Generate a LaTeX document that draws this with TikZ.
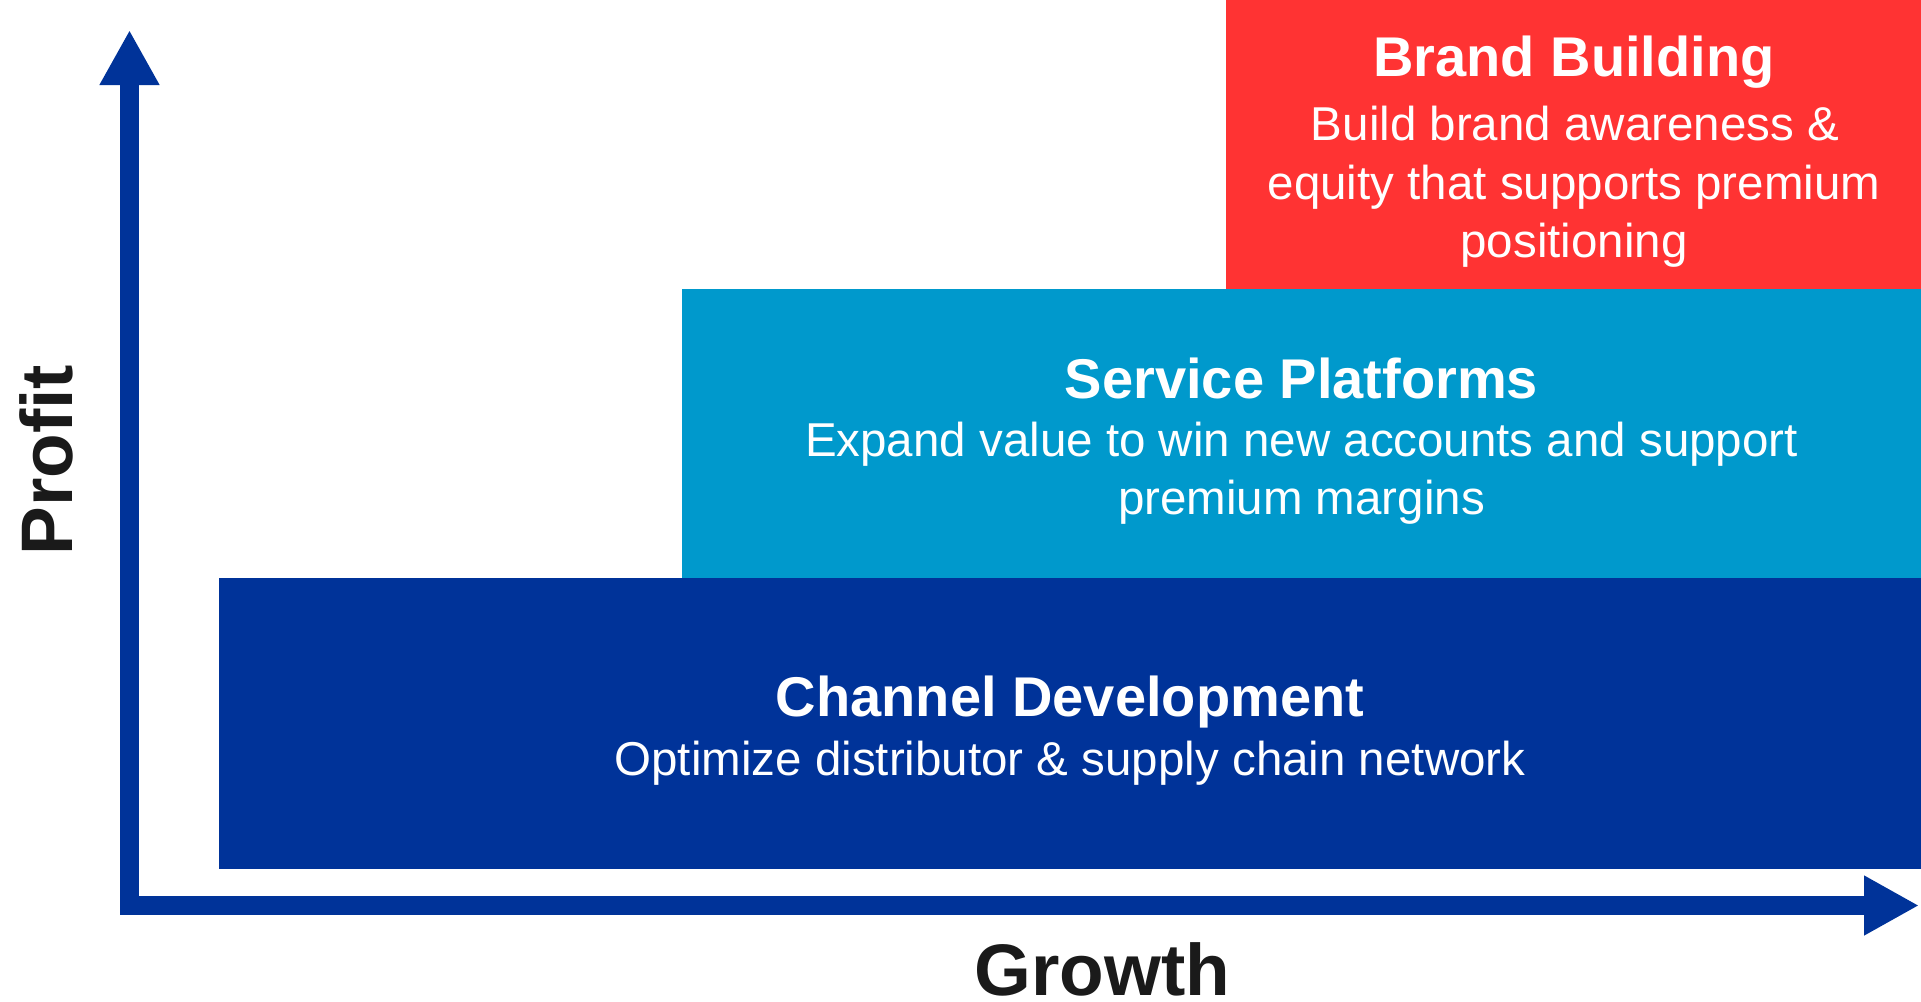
\documentclass[tikz,border=0pt]{standalone}
\usepackage{fontspec}
\setmainfont{Liberation Sans}
\usetikzlibrary{arrows.meta}

\definecolor{brandred}{RGB}{255,51,51}
\definecolor{servicecyan}{RGB}{0,153,204}
\definecolor{channelblue}{RGB}{0,51,153}
\definecolor{axisblue}{RGB}{0,51,153}
\definecolor{labelink}{RGB}{26,26,26}

\begin{document}
\begin{tikzpicture}[x=1pt,y=-1pt,
  tier/.style={rectangle, anchor=north west, inner sep=0pt, outer sep=0pt, draw=none},
  tiertitle/.style={anchor=base, inner sep=0pt, text=white,
    font=\fontsize{56}{67}\selectfont\bfseries},
  tierbody/.style={anchor=base, inner sep=0pt, text=white,
    font=\fontsize{47.5}{58}\selectfont},
  axislabel/.style={anchor=base, inner sep=0pt, text=labelink,
    font=\fontsize{73}{88}\selectfont\bfseries},
  axisline/.style={draw=axisblue, line width=19pt, line join=miter,
    {Triangle[length=55pt,width=56pt]}-{Triangle[length=55pt,width=56pt]}}
]
\useasboundingbox (0,0) rectangle (1921,1001);

% tiers
\node[tier, fill=channelblue, minimum width=1702pt, minimum height=291pt] (channel) at (219,578) {};
\node[tier, fill=servicecyan, minimum width=1239pt, minimum height=289pt] (service) at (682,289) {};
\node[tier, fill=brandred, minimum width=695pt, minimum height=289pt] (brand) at (1226,0) {};

% axes
\coordinate (ytip) at (129.5,30);
\coordinate (origin) at (129.5,905.5);
\coordinate (xtip) at (1919,905.5);
\draw[axisline] (ytip) -- (origin) -- (xtip);

% tier texts
\node[tiertitle] (brandT) at (1574,76) {Brand Building};
\node[tierbody] (brandA) at (1575,140) {Build brand awareness \&};
\node[tierbody] (brandB) at (1574,199) {equity that supports premium};
\node[tierbody] (brandC) at (1574,257) {positioning};

\node[tiertitle] (serviceT) at (1301.5,398) {Service Platforms};
\node[tierbody] (serviceA) at (1301.5,456) {Expand value to win new accounts and support};
\node[tierbody] (serviceB) at (1301.5,514) {premium margins};

\node[tiertitle] (channelT) at (1070,716) {Channel Development};
\node[tierbody] (channelA) at (1070,775) {Optimize distributor \& supply chain network};

% axis labels
\node[axislabel] (growth) at (1102.5,995) {Growth};
\node[axislabel, rotate=90] (profit) at (72,460) {Profit};
\end{tikzpicture}
\end{document}
